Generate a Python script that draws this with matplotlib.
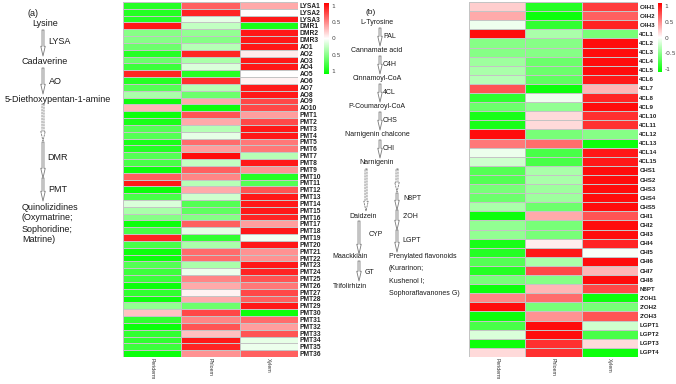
import matplotlib
matplotlib.use('Agg')
import numpy as np
import matplotlib.pyplot as plt
from matplotlib.colors import LinearSegmentedColormap

# heatmap (a) rows
rows_a = ['LYSA1', 'LYSA2', 'LYSA3', 'DMR1', 'DMR2', 'DMR3'] \
    + ['AO%d' % i for i in range(1, 11)] + ['PMT%d' % i for i in range(1, 37)]
peri_a = [-0.9, -0.9, -0.9, 0.95, -0.5, -0.5, -0.6, -0.9, -0.6, -0.8,
          0.9, -0.9, -0.7, -0.35, -1, 0.3, -1, -0.95, -0.7, -0.7,
          -0.95, -0.9, -0.7, -0.75, -1, 0.65, 0.95, -1, -0.75, -0.15,
          -0.35, -0.5, -1, -0.75, 0.9, -0.75, -1, -1, -0.7, -0.8,
          -0.8, -1, -0.85, -1, -0.45, 0.25, -0.85, -1, -0.85, -0.85,
          -0.8, -1]
phlo_a = [0.65, 0.9, -0.1, -0.25, -0.45, -0.5, -0.3, 0.9, -0.35, -0.15,
          -0.9, 0.85, -0.3, -0.6, 0.35, -1, 0.7, 0.35, -0.3, -0.1,
          0.6, 0.4, 1.0, -0.25, 0.65, 0.5, -0.3, 0.35, -0.2, -0.7,
          -0.65, -0.5, 0.65, -0.1, -0.85, -0.35, 0.6, 0.6, -0.35, -0.08,
          0.5, 0.35, 0.05, 0.35, -0.6, 0.75, 0.5, 0.7, 0.25, 0.95,
          0.9, 0.45]
xyl_a = [0.35, 0, 0.95, -0.95, 0.95, 0.95, 0.95, 0.08, 0.95, 0.95,
         0, 0.05, 0.95, 0.95, 0.75, 0.75, 0.4, 0.75, 0.95, 0.95,
         0.55, 0.55, -0.3, 0.95, 0.45, -0.9, -0.7, 0.7, 0.95, 0.95,
         0.95, 0.9, 0.4, 0.95, -0.05, 0.95, 0.45, 0.45, 0.95, 0.9,
         0.7, 0.55, 0.75, 0.65, 0.95, -1, 0.6, 0.4, 0.7, -0.1,
         -0.08, 0.65]

# heatmap (b) rows
rows_b = ['C4H%d' % i for i in range(1, 4)] + ['4CL%d' % i for i in range(1, 16)] \
    + ['CHS%d' % i for i in range(1, 6)] + ['CHI%d' % i for i in range(1, 9)] \
    + ['N8PT'] + ["2'OH%d" % i for i in range(1, 4)] + ['LGPT%d' % i for i in range(1, 5)]
peri_b = [0.2, 0.35, -0.07, 1.0, -0.5, -0.5, -0.4, -0.35, -0.3, 0.7,
          -0.85, -0.6, -0.95, -0.95, 1.0, 0.55, -0.08, -0.2, -0.7, -0.7,
          -0.55, -0.6, -0.35, -1, -0.45, -0.45, -0.95, -0.9, -0.7, -0.9,
          -0.55, -1, 0.5, 1.0, -1, -0.75, -0.15, -1, 0.15]
phlo_b = [-0.9, -1, -0.85, -0.35, -0.5, -0.5, -0.6, -0.6, -0.65, -1,
          -0.07, -0.45, 0.15, 0.15, -0.55, 0.6, -0.75, -0.75, -0.35, -0.35,
          -0.4, -0.4, -0.6, 0.35, -0.55, -0.55, 0.07, 0.95, -0.35, 0.75,
          -0.5, 0.3, 0.6, -0.55, 0.45, 1, 1, 0.85, 0.85]
xyl_b = [0.8, 0.65, 0.9, -0.55, 1, 1, 1, 1, 0.95, 0.3,
         0.9, 1, 0.85, 0.85, -0.5, -1, 0.95, 0.95, 1, 1,
         1, 1, 1, 0.7, 1, 1, 0.9, -0.03, 1, 0.3,
         1, 0.75, -1, -0.55, 0.7, -0.2, -0.75, 0.15, -1]

tissues = ['Periderm', 'Phloem', 'Xylem']

W, H = 676, 384
cmap = LinearSegmentedColormap.from_list('gwr', ['#00ff00', '#ffffff', '#ff0000'])
FONT = 'Liberation Sans'

fig = plt.figure(figsize=(W / 100, H / 100), dpi=100)


def px_axes(x0, y0, x1, y1):
    return fig.add_axes([x0 / W, 1 - y1 / H, (x1 - x0) / W, (y1 - y0) / H])


def draw_heat(ax, cols, labels, fs):
    data = np.array(cols).T
    ax.pcolormesh(data, cmap=cmap, vmin=-1.05, vmax=1.05,
                  edgecolors='#c4c4c4', linewidth=0.4)
    ax.set_xlim(0, 3)
    ax.set_ylim(len(labels), 0)
    ax.yaxis.tick_right()
    ax.set_yticks(np.arange(len(labels)) + 0.5)
    ax.set_yticklabels(labels, fontsize=fs, family=FONT, fontweight='bold', color='#222222')
    ax.set_xticks(np.arange(3) + 0.5)
    ax.set_xticklabels(tissues, rotation=-90, fontsize=3.8, family=FONT, color='#333333')
    ax.tick_params(length=0, pad=1)
    for s in ax.spines.values():
        s.set_visible(False)


def draw_cbar(cax, ticklabels):
    sm = plt.cm.ScalarMappable(cmap=cmap, norm=plt.Normalize(-1.08, 1.08))
    cb = fig.colorbar(sm, cax=cax)
    cb.outline.set_visible(False)
    cb.set_ticks([1, 0.5, 0, -0.5, -1])
    cb.set_ticklabels(ticklabels)
    cax.tick_params(length=0, pad=2, labelsize=4.3, labelcolor='#444444')


ax_a = px_axes(123, 2, 298, 357)
draw_heat(ax_a, [peri_a, phlo_a, xyl_a], rows_a, 4.8)
ax_b = px_axes(469, 2, 638, 357)
draw_heat(ax_b, [peri_b, phlo_b, xyl_b], rows_b, 4.4)

draw_cbar(px_axes(324, 3, 329, 74), ['1', '0.5', '0', '0.5', '1'])
draw_cbar(px_axes(658, 3, 662, 72), ['1', '0.5', '0', '-0.5', '-1'])

# pathway diagrams drawn on a pixel-coordinate overlay
ov = fig.add_axes([0, 0, 1, 1], zorder=-1)
ov.set_xlim(0, W)
ov.set_ylim(H, 0)
ov.axis('off')


def arrow(x, y0, y1, dashed=False):
    ov.annotate('', xy=(x, y1), xytext=(x, y0),
                arrowprops=dict(arrowstyle='simple,head_length=0.7,head_width=0.32,tail_width=0.14',
                                fc='white', ec='#7a7a7a', lw=0.6,
                                ls=(0, (2, 1.5)) if dashed else '-',
                                shrinkA=0, shrinkB=0))


def txt(x, y, s, fs, ha='center'):
    ov.text(x, y, s, fontsize=fs, family=FONT, ha=ha, va='center', color='#1a1a1a')


fa = 6.5
txt(33, 13, '(a)', fa)
txt(45, 24, 'Lysine', fa)
arrow(43, 30, 56)
txt(48, 42, 'LYSA', fa, 'left')
txt(45, 62, 'Cadaverine', fa)
arrow(43, 68, 94)
txt(49, 82, 'AO', fa, 'left')
txt(58, 100, '5-Diethoxypentan-1-amine', fa)
arrow(43, 104, 141, dashed=True)
arrow(43, 142, 178)
txt(47, 158, 'DMR', fa, 'left')
arrow(43, 178, 201)
txt(48, 189, 'PMT', fa, 'left')
for i, s in enumerate(['Quinolizidines', '(Oxymatrine;', 'Sophoridine;', 'Matrine)']):
    txt(22, 207 + 11 * i, s, fa, 'left')

fb = 5
txt(371, 13, '(b)', 6)
steps_b = ['L-Tyrosine', 'Cannamate acid', 'Cinnamoyl-CoA', 'P-Coumaroyl-CoA',
           'Narnigenin chalcone', 'Narnigenin']
enz_b = ['PAL', 'C4H', '4CL', 'CHS', 'CHI']
for i, s in enumerate(steps_b):
    txt(377, 23 + 28 * i, s, fb)
for i, s in enumerate(enz_b):
    arrow(380, 28 + 28 * i, 46 + 28 * i)
    txt(383, 37 + 28 * i, s, fb, 'left')

arrow(366, 169, 211, dashed=True)
txt(363, 216, 'Daidzein', fb)
arrow(359, 221, 254)
txt(369, 235, 'CYP', fb, 'left')
txt(350, 256, 'Maackkiain', fb)
arrow(359, 261, 281)
txt(365, 272, 'GT', fb, 'left')
txt(350, 286, 'Trifolirhizin', fb)

arrow(397, 169, 192, dashed=True)
arrow(397, 193, 210)
txt(403, 199, 'N8PT', fb, 'left')
arrow(397, 210, 230)
txt(403, 217, "2'OH", fb, 'left')
arrow(397, 230, 252)
txt(402, 240, 'LGPT', fb, 'left')
for i, s in enumerate(['Prenylated flavonoids', '(Kurarinon;', 'Kushenol I;',
                       'Sophoraflavanones G)']):
    txt(389, 256 + 12.5 * i, s, fb, 'left')

fig.savefig('out.png', dpi=100)
